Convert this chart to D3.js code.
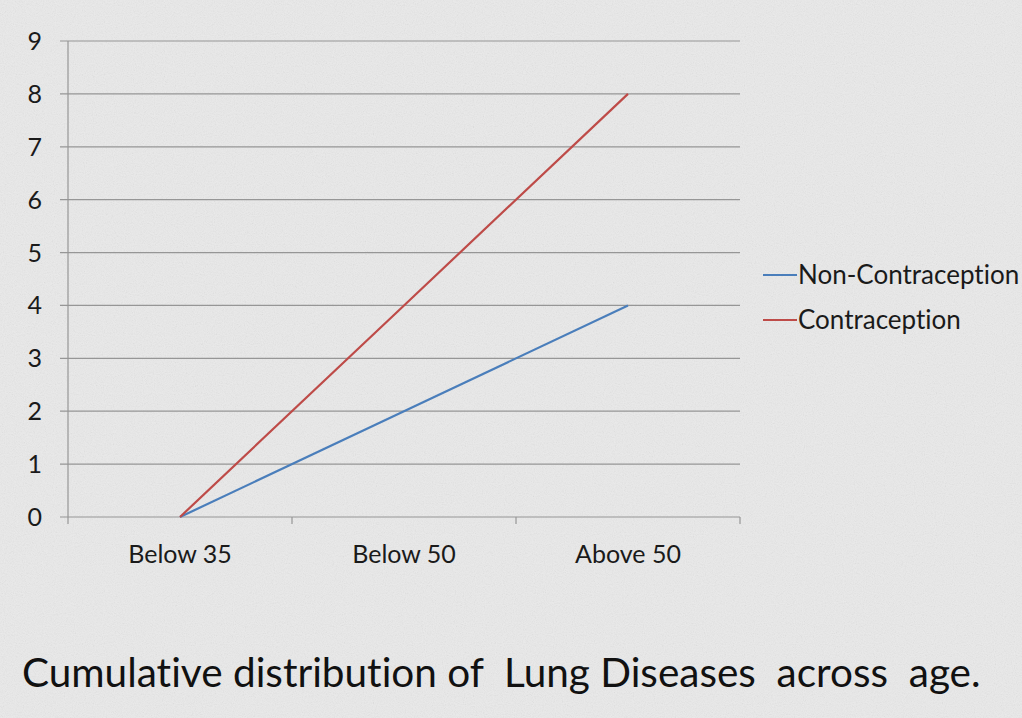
<!DOCTYPE html>
<html><head><meta charset="utf-8">
<script src="https://cdn.jsdelivr.net/npm/d3@7"></script>
<style>body{margin:0;background:#e8e8e8;}svg{display:block;} text{font-variant-ligatures:none;font-feature-settings:"liga" 0;}</style>
</head><body>
<script>
const categories = ["Below 35", "Below 50", "Above 50"];
const seriesNames = ["Non-Contraception", "Contraception"];
const nonContraception = [0, 2, 4];
const contraception = [0, 4, 8];
const yTicks = [0,1,2,3,4,5,6,7,8,9];
const colors = ["#4a7ebb", "#be4b48"];
const titleText = "Cumulative distribution of  Lung Diseases  across  age.";

const W = 1022, H = 718;
const svg = d3.select("body").append("svg").attr("width", W).attr("height", H);
const defs = svg.append("defs");
const f = defs.append("filter").attr("id","noise").attr("x",0).attr("y",0).attr("width","100%").attr("height","100%");
f.append("feTurbulence").attr("type","fractalNoise").attr("baseFrequency",0.9).attr("numOctaves",2).attr("seed",3);
f.append("feColorMatrix").attr("type","saturate").attr("values",0);
svg.append("rect").attr("width",W).attr("height",H).attr("fill","#eaeaea");
svg.append("rect").attr("width",W).attr("height",H).attr("filter","url(#noise)").attr("opacity",0.18);

const font = "Lato, 'Open Sans', sans-serif";
const x = d3.scaleBand().domain(categories).range([68, 740]);
const y = d3.scaleLinear().domain([0, 9]).range([517, 41]);

// gridlines
svg.append("g").selectAll("line").data(yTicks).join("line")
  .attr("x1", 60).attr("x2", 740).attr("y1", d => y(d)).attr("y2", d => y(d))
  .attr("stroke", "#969696").attr("stroke-width", 1.2);
// y axis line
svg.append("line").attr("x1",68).attr("x2",68).attr("y1",y(9)).attr("y2",y(0)).attr("stroke","#969696").attr("stroke-width",1.2);
// x ticks at band boundaries
const bounds = categories.map(c => x(c)).concat([x(categories[categories.length-1]) + x.bandwidth()]);
svg.append("g").selectAll("line").data(bounds).join("line")
  .attr("x1", d=>d).attr("x2", d=>d).attr("y1", y(0)).attr("y2", y(0)+7)
  .attr("stroke","#969696").attr("stroke-width",1.2);

// y labels
svg.append("g").selectAll("text").data(yTicks).join("text")
  .attr("x", 42).attr("y", d => y(d)).attr("dy","0.36em")
  .attr("text-anchor","end").attr("font-family",font).attr("font-size",25).attr("fill","#1a1a1a")
  .text(d => d);
// x labels
svg.append("g").selectAll("text").data(categories).join("text")
  .attr("x", d => x(d) + x.bandwidth()/2).attr("y", 563)
  .attr("text-anchor","middle").attr("font-family",font).attr("font-size",25).attr("fill","#1a1a1a")
  .text(d => d);

const line = d3.line().x((d,i) => x(categories[i]) + x.bandwidth()/2).y(d => y(d));
[nonContraception, contraception].forEach((s,i) => {
  svg.append("path").datum(s).attr("d", line).attr("fill","none")
    .attr("stroke", colors[i]).attr("stroke-width", 2.2);
});

// legend
const leg = svg.append("g").selectAll("g").data(seriesNames).join("g")
  .attr("transform",(d,i)=>`translate(763,${275 + i*45})`);
leg.append("line").attr("x1",0).attr("x2",34).attr("stroke",(d,i)=>colors[i]).attr("stroke-width",2.2);
leg.append("text").attr("x",35).attr("dy","0.36em").attr("font-family",font).attr("font-size",26)
  .attr("fill","#1a1a1a").text(d=>d);

svg.append("text").attr("x",22).attr("y",687).attr("font-family",font).attr("font-size",40.5)
  .attr("fill","#111").style("white-space","pre").attr("xml:space","preserve").text(titleText);
</script>
</body></html>
